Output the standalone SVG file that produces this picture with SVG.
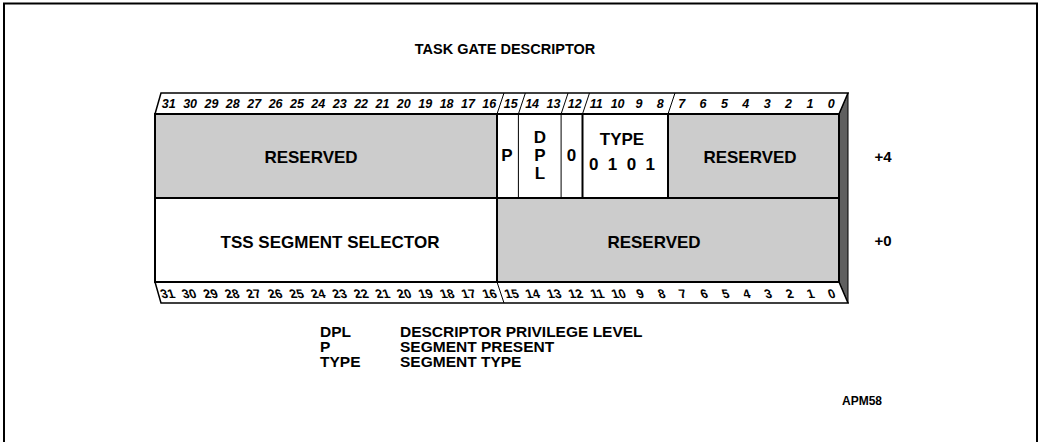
<svg xmlns="http://www.w3.org/2000/svg" width="1042" height="442" viewBox="0 0 1042 442">
<style>
.t{font-family:"Liberation Sans",Arial,sans-serif;font-weight:bold;fill:#000;text-anchor:middle}
.f{font-size:17px}
.lg{font-family:"Liberation Sans",Arial,sans-serif;font-weight:bold;font-size:15.5px;fill:#000}
.nt{font-family:"Liberation Sans",Arial,sans-serif;font-weight:bold;font-style:italic;font-size:12.5px;text-anchor:middle}
.nb{font-family:"Liberation Sans",Arial,sans-serif;font-weight:bold;font-size:12.5px;text-anchor:middle}
.gray{fill:#cccccc}
.white{fill:#ffffff}
.thick{stroke:#000;stroke-width:2;fill:none}
.thin{stroke:#000;stroke-width:1;fill:none}
</style>
<rect width="1042" height="442" fill="#fff"/>
<path d="M4,442 V3.5 H1037 V442" class="thick" stroke-width="2.5"/>
<text class="t" x="505" y="54" font-size="14.5">TASK GATE DESCRIPTOR</text>

<g id="side">
<polygon points="848,93 848,303 839,282 839,114" fill="#5f5f5f" stroke="#000" stroke-width="1"/>
</g>

<g id="top-strip">
<polygon points="161,93 848,93 839,114 155,114" fill="#fff" stroke="#000" stroke-width="1.5"/>
<path d="M497,114 L504,93 M518.4,114 L525.4,93 M561.1,114 L568.1,93 M582.5,114 L589.5,93 M668,114 L675,93" class="thin"/>
<g class="nt">
<text x="168.7" y="108">31</text><text x="190.1" y="108">30</text><text x="211.4" y="108">29</text><text x="232.8" y="108">28</text>
<text x="254.2" y="108">27</text><text x="275.6" y="108">26</text><text x="296.9" y="108">25</text><text x="318.3" y="108">24</text>
<text x="339.7" y="108">23</text><text x="361.1" y="108">22</text><text x="382.4" y="108">21</text><text x="403.8" y="108">20</text>
<text x="425.2" y="108">19</text><text x="446.6" y="108">18</text><text x="467.9" y="108">17</text><text x="489.3" y="108">16</text>
<text x="510.7" y="108">15</text><text x="532.1" y="108">14</text><text x="553.4" y="108">13</text><text x="574.8" y="108">12</text>
<text x="596.2" y="108">11</text><text x="617.6" y="108">10</text><text x="638.9" y="108">9</text><text x="660.3" y="108">8</text>
<text x="681.7" y="108">7</text><text x="703.1" y="108">6</text><text x="724.4" y="108">5</text><text x="745.8" y="108">4</text>
<text x="767.2" y="108">3</text><text x="788.6" y="108">2</text><text x="810" y="108">1</text><text x="831.3" y="108">0</text>
</g>
</g>

<g id="bottom-strip">
<polygon points="155,282 839,282 848,303 161,303" fill="#fff" stroke="#000" stroke-width="1.5"/>
<path d="M497,282 L504,303" class="thin"/>
<g class="nb" transform="translate(0,297.5) skewX(18)">
<text x="169" y="0">31</text><text x="190.5" y="0">30</text><text x="212" y="0">29</text><text x="233.5" y="0">28</text>
<text x="255" y="0">27</text><text x="276.5" y="0">26</text><text x="298" y="0">25</text><text x="319.5" y="0">24</text>
<text x="341" y="0">23</text><text x="362.5" y="0">22</text><text x="384" y="0">21</text><text x="405.5" y="0">20</text>
<text x="427" y="0">19</text><text x="448.5" y="0">18</text><text x="470" y="0">17</text><text x="491" y="0">16</text>
<text x="513" y="0">15</text><text x="534" y="0">14</text><text x="555.5" y="0">13</text><text x="577" y="0">12</text>
<text x="598.5" y="0">11</text><text x="620" y="0">10</text><text x="641.5" y="0">9</text><text x="663" y="0">8</text>
<text x="684" y="0">7</text><text x="705.5" y="0">6</text><text x="727" y="0">5</text><text x="748" y="0">4</text>
<text x="769.5" y="0">3</text><text x="791" y="0">2</text><text x="812" y="0">1</text><text x="833" y="0">0</text>
</g>
</g>

<g id="reserved-high">
<rect x="155" y="114" width="342" height="84" class="gray"/>
<text class="t f" x="311" y="163">RESERVED</text>
</g>
<g id="p-field">
<rect x="497" y="114" width="21.4" height="84" class="white"/>
<text class="t f" x="507" y="161">P</text>
</g>
<g id="dpl-field">
<rect x="518.4" y="114" width="42.7" height="84" class="white"/>
<text class="t f" x="540" y="143">D</text>
<text class="t f" x="540" y="161">P</text>
<text class="t f" x="540" y="179">L</text>
</g>
<g id="zero-field">
<rect x="561.1" y="114" width="21.4" height="84" class="white"/>
<text class="t f" x="571.5" y="161">0</text>
</g>
<g id="type-field">
<rect x="582.5" y="114" width="85.5" height="84" class="white"/>
<text class="t f" x="622" y="145">TYPE</text>
<text class="t f" x="622" y="170" xml:space="preserve">0  1  0  1</text>
</g>
<g id="reserved-low">
<rect x="668" y="114" width="171" height="84" class="gray"/>
<text class="t f" x="750" y="163">RESERVED</text>
</g>
<g id="tss-selector">
<rect x="155" y="198" width="342" height="84" class="white"/>
<text class="t f" x="330" y="248">TSS SEGMENT SELECTOR</text>
</g>
<g id="reserved-word0">
<rect x="497" y="198" width="342" height="84" class="gray"/>
<text class="t f" x="654" y="248">RESERVED</text>
</g>

<g id="grid-lines">
<rect x="155" y="114" width="684" height="168" class="thick"/>
<path d="M155,198 H839 M497,114 V282 M582.5,114 V198 M668,114 V198" class="thick"/>
<path d="M518.4,114 V198 M561.1,114 V198" class="thin"/>
</g>

<g id="offsets">
<text class="t" x="883" y="162" font-size="15">+4</text>
<text class="t" x="883" y="246" font-size="15">+0</text>
</g>

<g id="legend">
<text class="lg" x="320" y="337">DPL</text><text class="lg" x="400" y="337">DESCRIPTOR PRIVILEGE LEVEL</text>
<text class="lg" x="320" y="352">P</text><text class="lg" x="400" y="352">SEGMENT PRESENT</text>
<text class="lg" x="320" y="367">TYPE</text><text class="lg" x="400" y="367">SEGMENT TYPE</text>
</g>
<text class="t" x="862" y="405" font-size="12">APM58</text>
</svg>
